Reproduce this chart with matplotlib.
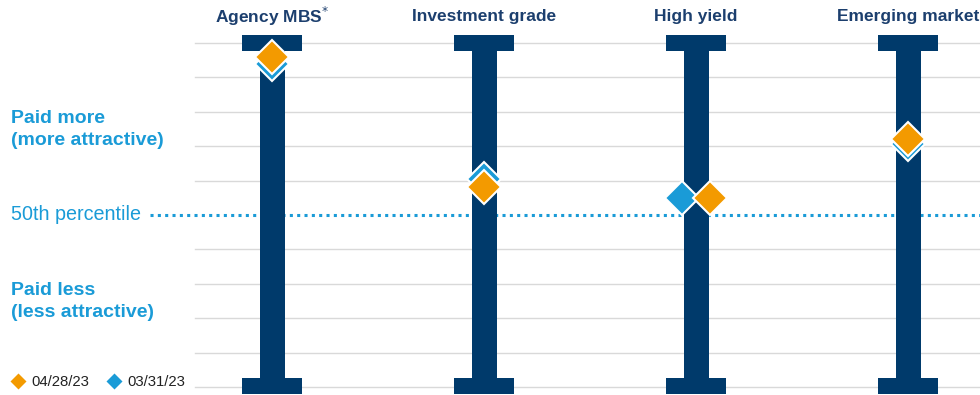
import matplotlib.pyplot as plt
from matplotlib.patches import Rectangle

# Data (percentile ranks)
sectors = ['Agency MBS', 'Investment grade', 'High yield', 'Emerging market']
latest = [96, 58, 55, 72]      # 04/28/23
previous = [94, 60.5, 55, 70.5]  # 03/31/23
legend_labels = ['04/28/23', '03/31/23']

navy = '#003a6b'
orange = '#f39a00'
blue = '#1a9bd7'
grid_grey = '#d9d9d9'

plt.rcParams['font.family'] = ['Liberation Sans', 'DejaVu Sans']

W, H = 980, 395
fig = plt.figure(figsize=(W / 100, H / 100), dpi=100)
ax = fig.add_axes([0, 0, 1, 1])
ax.axis('off')

# vertical scale: 100 -> 43 px from top, 0 -> 387 px from top
ppp = (387 - 43) / 100.0   # pixels per percentile
ax.set_xlim(0, W)
ax.set_ylim(-(H - 387) / ppp, 100 + 43 / ppp)

def fy(py):  # figure fraction from pixel-from-top
    return 1 - py / H

# gridlines
for g in range(0, 101, 10):
    if g == 50:
        ax.plot([150, W], [g, g], color=blue, lw=2.2, ls=(0, (1, 1.4)),
                dash_capstyle='butt', zorder=1)
    else:
        ax.plot([195, W], [g, g], color=grid_grey, lw=1, zorder=1)

xs = [272 + i * 212 for i in range(len(sectors))]
stem_w = 25
cap_w = 60
cap_h = 16 / ppp

for x, name in zip(xs, sectors):
    ax.add_patch(Rectangle((x - stem_w / 2, 0), stem_w, 100, color=navy, lw=0, zorder=2))
    ax.add_patch(Rectangle((x - cap_w / 2, 100 - 8 / ppp), cap_w, cap_h, color=navy, lw=0, zorder=2))
    ax.add_patch(Rectangle((x - cap_w / 2, -7 / ppp), cap_w, cap_h, color=navy, lw=0, zorder=2))
    if name == 'Agency MBS':
        label = 'Agency MBS$^{*}$'
    else:
        label = name
    fig.text(x / W, fy(16), label, ha='center', va='center', fontsize=12.5,
             fontweight='bold', color='#1c3f6e')

# markers, dodge sideways when both dates are equal
for x, a, b in zip(xs, latest, previous):
    dx = 14 if abs(a - b) < 1 else 0
    ax.plot(x - dx, b, marker='D', ms=17.5, color=blue, mec='white', mew=1.5, zorder=3)
    ax.plot(x + dx, a, marker='D', ms=17.5, color=orange, mec='white', mew=1.5, zorder=4)

# left side labels
fig.text(11 / W, fy(129.5), 'Paid more\n(more attractive)', ha='left', va='center',
         fontsize=14, fontweight='bold', color=blue, linespacing=1.45)
fig.text(11 / W, fy(215), '50th percentile', ha='left', va='center',
         fontsize=14.2, color=blue)
fig.text(11 / W, fy(301.5), 'Paid less\n(less attractive)', ha='left', va='center',
         fontsize=14, fontweight='bold', color=blue, linespacing=1.45)

# legend
for lx, col, lab in [(18, orange, legend_labels[0]), (114, blue, legend_labels[1])]:
    fig.lines.append(plt.Line2D([lx / W], [fy(381)], marker='D', ms=8.5, color=col,
                                mec='none', transform=fig.transFigure))
    fig.text((lx + 13) / W, fy(382), lab, ha='left', va='center', fontsize=10.7, color='#222222')

fig.savefig('out.png', dpi=100)
